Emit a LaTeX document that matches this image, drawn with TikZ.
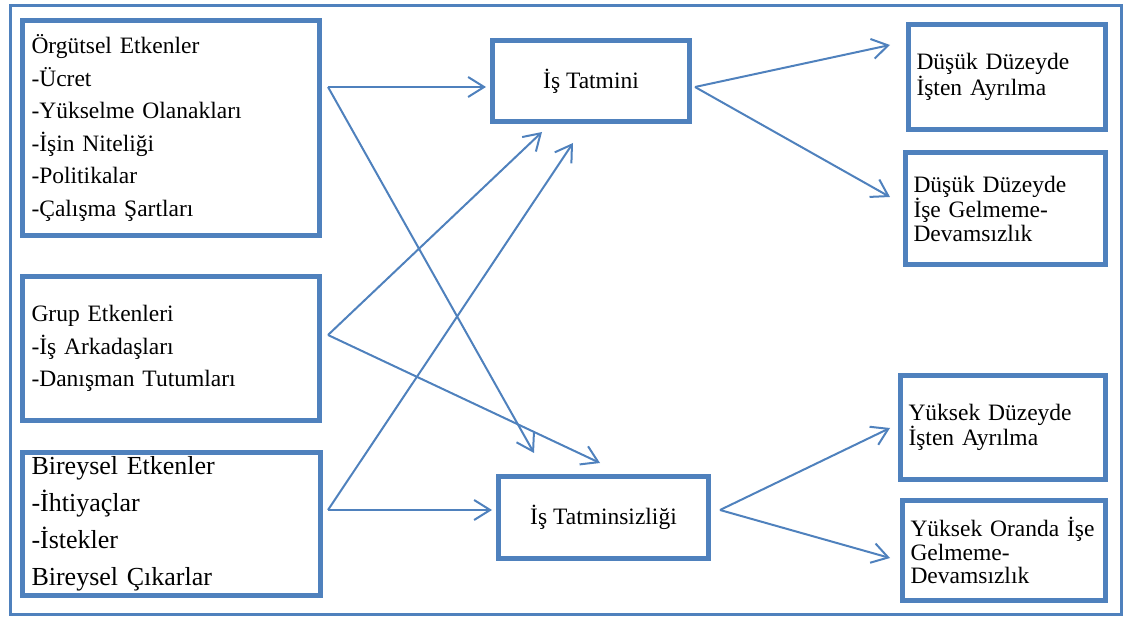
\documentclass[tikz,border=0pt]{standalone}
\usepackage{fontspec}
\setmainfont{Liberation Serif}
\usepackage{xcolor}
\definecolor{office-blue}{HTML}{4F81BD}
\usetikzlibrary{arrows.meta}
\tikzset{box/.style = {draw=office-blue, line width=5pt, align=left, inner xsep=9pt, inner ysep=0pt, font=\fontsize{23.5}{32.5}\selectfont}}
\tikzset{midbox/.style = {draw=office-blue, line width=5pt, align=center, font=\fontsize{23.5}{28}\selectfont}}
\tikzset{outbox/.style = {draw=office-blue, line width=5pt, align=left, inner xsep=8pt, inner ysep=0pt, font=\fontsize{23.5}{23.5}\selectfont}}
\tikzset{frame/.style = {draw=office-blue, line width=3pt}}
\tikzset{arr/.style = {draw=office-blue, line width=2pt, -{Straight Barb[length=16pt,width=20pt]}}}

\begin{document}
\begin{tikzpicture}[x=1pt, y=-1pt]
\useasboundingbox (0,0) rectangle (1125,617);
\draw[frame] (10.5,5.5) rectangle (1121,614.5);

% left column
\node[box, minimum width=297pt, minimum height=215pt, text width=279pt] (b1) at (171,128) {
  Örgütsel Etkenler\\
  -Ücret\\
  -Yükselme Olanakları\\
  -İşin Niteliği\\
  -Politikalar\\
  -Çalışma Şartları
};
\node[box, minimum width=297pt, minimum height=144pt, text width=279pt] (b2) at (171,348.5) {
  Grup Etkenleri\\
  -İş Arkadaşları\\
  -Danışman Tutumları
};
\node[box, minimum width=297.5pt, minimum height=143pt, text width=279.5pt,
  font=\fontsize{26}{37}\selectfont] (b3) at (171.25,524) {
  Bireysel Etkenler\\
  -İhtiyaçlar\\
  -İstekler\\
  Bireysel Çıkarlar
};

% middle column
\node[midbox, minimum width=197pt, minimum height=81pt] (b4) at (591,81) {İş Tatmini};
\node[midbox, minimum width=210pt, minimum height=82pt] (b5) at (603.5,517.5) {İş Tatminsizliği};

% right column
\node[outbox, minimum width=197pt, minimum height=105pt, text width=181pt] (b6) at (1007,77) {
  Düşük Düzeyde\\
  İşten Ayrılma
};
\node[outbox, minimum width=200pt, minimum height=112pt, text width=184pt] (b7) at (1005.5,208.5) {
  Düşük Düzeyde\\
  İşe Gelmeme-\\
  Devamsızlık
};
\node[outbox, minimum width=205pt, minimum height=104pt, text width=189pt] (b8) at (1003,427.5) {
  Yüksek Düzeyde\\
  İşten Ayrılma
};
\node[outbox, minimum width=203pt, minimum height=100pt, text width=187pt] (b9) at (1004,550.5) {
  Yüksek Oranda İşe\\
  Gelmeme-\\
  Devamsızlık
};

% fork points and free arrow ends
\coordinate (v1) at (328,87);
\coordinate (v2) at (328,335);
\coordinate (v3) at (328,510);
\coordinate (v4) at (695,87);
\coordinate (v5) at (720,510);
\coordinate (t1) at (534,453);
\coordinate (t2) at (600,463);
\coordinate (t3) at (542,132);
\coordinate (t4) at (573,143);
\coordinate (t5) at (890,45);
\coordinate (t6) at (890,197);
\coordinate (t7) at (890,428);
\coordinate (t8) at (890,558);

\draw[arr, shorten >=4pt] (v1) -- (v1 -| b4.west);
\draw[arr] (v1) -- (t1);
\draw[arr] (v2) -- (t3);
\draw[arr] (v2) -- (t2);
\draw[arr, shorten >=4pt] (v3) -- (v3 -| b5.west);
\draw[arr] (v3) -- (t4);
\draw[arr] (v4) -- (t5);
\draw[arr] (v4) -- (t6);
\draw[arr] (v5) -- (t7);
\draw[arr] (v5) -- (t8);

\end{tikzpicture}
\end{document}
